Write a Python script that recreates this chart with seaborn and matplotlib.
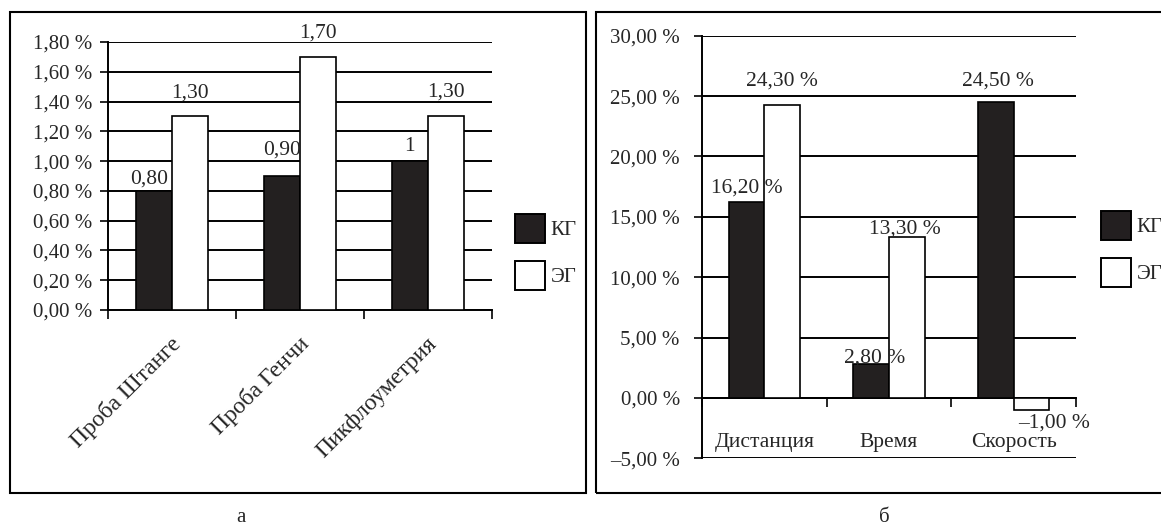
import pandas as pd
import seaborn as sns
import matplotlib
matplotlib.use('Agg')
import matplotlib.pyplot as plt
import matplotlib.transforms as mtransforms
from matplotlib.patches import Rectangle
from matplotlib.ticker import FuncFormatter

sns.set_style('white')
plt.rcParams['font.family'] = ['Liberation Serif', 'DejaVu Serif']
plt.rcParams['font.size'] = 15

# data
groups = ['КГ', 'ЭГ']
tests_a = ['Проба Штанге', 'Проба Генчи', 'Пикфлоуметрия']
kg_a = [0.8, 0.9, 1.0]
eg_a = [1.3, 1.7, 1.3]
lab_kg_a = ['0,80', '0,90', '1']
lab_eg_a = ['1,30', '1,70', '1,30']

tests_b = ['Дистанция', 'Время', 'Скорость']
kg_b = [16.2, 2.8, 24.5]
eg_b = [24.3, 13.3, -1.0]
lab_kg_b = ['16,20 %', '2,80 %', '24,50 %']
lab_eg_b = ['24,30 %', '13,30 %', '–1,00 %']

yticks_a = [0, 0.2, 0.4, 0.6, 0.8, 1.0, 1.2, 1.4, 1.6, 1.8]
yticks_b = [-5, 0, 5, 10, 15, 20, 25, 30]

# label offsets (pixels, dx, dy)
off_kg_a = [(-5, 7), (0, 21), (0, 10)]
off_eg_a = [(0, 19), (0, 19), (0, 20)]
off_kg_b = [(0, 10), (3, 2), (2, 17)]
off_eg_b = [(0, 19), (-2, 3.5), (23, -18)]

df_a = pd.DataFrame({'test': tests_a * 2, 'group': [groups[0]] * 3 + [groups[1]] * 3,
                     'val': kg_a + eg_a})
df_b = pd.DataFrame({'test': tests_b * 2, 'group': [groups[0]] * 3 + [groups[1]] * 3,
                     'val': kg_b + eg_b})

pal = {'КГ': '#231f20', 'ЭГ': 'white'}
W, H = 1161, 529
fig = plt.figure(figsize=(W / 100, H / 100), dpi=100)


def px(x0, y0, x1, y1):
    return [x0 / W, 1 - y1 / H, (x1 - x0) / W, (y1 - y0) / H]


def pct(v, pos):
    s = f'{v:.2f} %'.replace('.', ',')
    return s.replace('-', '–')


def draw(ax, df, order, ylim, yticks, labs, offs, ypad):
    sns.barplot(data=df, x='test', y='val', hue='group', order=order, hue_order=groups,
                palette=pal, edgecolor='black', linewidth=1.2, width=0.57,
                legend=False, ax=ax, zorder=3)
    ax.set_xlim(-0.5, 2.5)
    ax.set_ylim(*ylim)
    ax.set_yticks(yticks)
    ax.yaxis.set_major_formatter(FuncFormatter(pct))
    ax.yaxis.grid(True, color='black', linewidth=1.4)
    ax.set_axisbelow(True)
    for s in ['top', 'right']:
        ax.spines[s].set_visible(False)
    for s in ['left', 'bottom']:
        ax.spines[s].set_linewidth(1.4)
        ax.spines[s].set_color('black')
    ax.spines['bottom'].set_position(('data', 0))
    ax.tick_params(axis='y', direction='out', length=6, width=1.4, pad=ypad, left=True)
    ax.set_xticks([-0.5, 0.5, 1.5, 2.5])
    ax.set_xticklabels([])
    ax.set_xticks([0, 1, 2], minor=True)
    ax.tick_params(axis='x', which='major', direction='out', length=6.5, width=1.4, bottom=True)
    ax.set_xlabel('')
    ax.set_ylabel('')
    for cont, lab, off in zip(ax.containers, labs, offs):
        for bar, t, (dx, dy) in zip(cont, lab, off):
            x = bar.get_x() + bar.get_width() / 2
            y = bar.get_y() + bar.get_height()
            ax.annotate(t, (x, y), xytext=(dx * 0.72, dy * 0.72), textcoords='offset points',
                        ha='center', va='baseline', fontsize=15.5)


ax1 = fig.add_axes(px(108, 42, 492, 310))
draw(ax1, df_a, tests_a, (0, 1.8), yticks_a, [lab_kg_a, lab_eg_a], [off_kg_a, off_eg_a], 5)
ax1.set_xticklabels(tests_a, minor=True, fontsize=17)
ax1.tick_params(axis='x', which='minor', length=0, pad=22)
shift = mtransforms.ScaledTranslation(6 / 100, 0, fig.dpi_scale_trans)
for t in ax1.get_xticklabels(minor=True):
    t.set_rotation(45)
    t.set_ha('right')
    t.set_va('center')
    t.set_rotation_mode('anchor')
    t.set_transform(t.get_transform() + shift)

ax2 = fig.add_axes(px(702, 35.7, 1076, 458.3))
draw(ax2, df_b, tests_b, (-5, 30), yticks_b, [lab_kg_b, lab_eg_b], [off_kg_b, off_eg_b], 10)
ax2.set_xticklabels(tests_b, minor=True, fontsize=15.5)
ax2.tick_params(axis='x', which='minor', length=0, pad=25)

# legends
handles = [Rectangle((0, 0), 1, 1, facecolor=pal[g], edgecolor='black', linewidth=1.4)
           for g in groups]
for x0, y0 in [(515, 214), (1101, 211)]:
    fig.legend(handles, groups, loc='upper left', bbox_to_anchor=(x0 / W, 1 - y0 / H),
               frameon=False, borderpad=0, borderaxespad=0, handlelength=1.42,
               handleheight=1.78, handletextpad=0.3, labelspacing=0.84, fontsize=15)

# frames
for x0, x1 in [(10, 586), (596, 1180)]:
    fig.add_artist(Rectangle((x0 / W, 1 - 493 / H), (x1 - x0) / W, (493 - 12) / H,
                             transform=fig.transFigure, fill=False, edgecolor='black',
                             linewidth=1.5))

fig.text(241 / W, 1 - 517 / H, 'а', ha='center', va='center', fontsize=15)
fig.text(884 / W, 1 - 517 / H, 'б', ha='center', va='center', fontsize=15)

fig.savefig('out.png', dpi=100)
